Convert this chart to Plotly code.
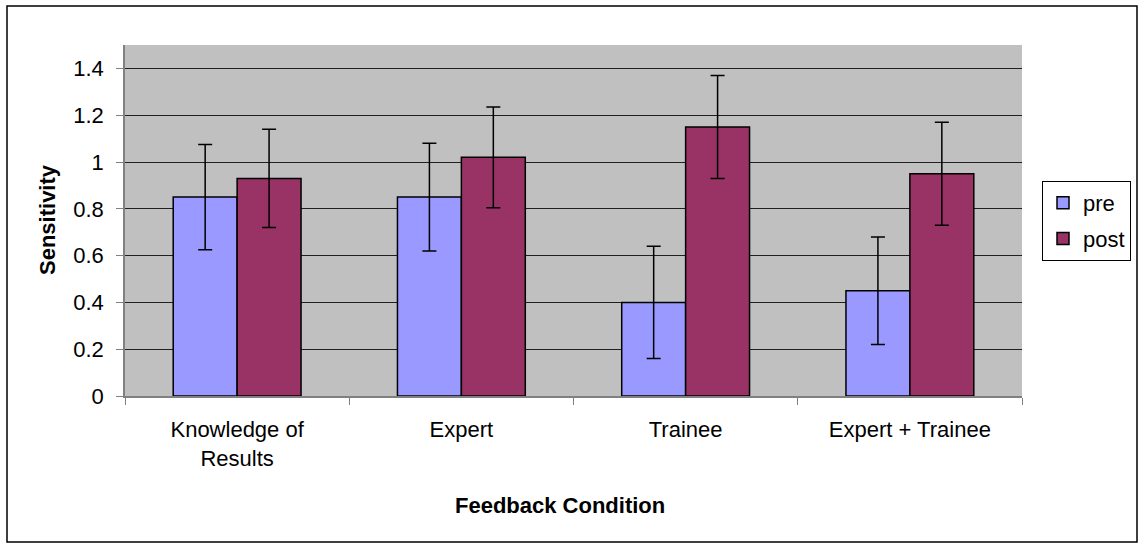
import plotly.graph_objects as go

categories = ["Knowledge of<br>Results", "Expert", "Trainee", "Expert + Trainee"]
pre = [0.85, 0.85, 0.40, 0.45]
post = [0.93, 1.02, 1.15, 0.95]
pre_err = [0.225, 0.23, 0.24, 0.23]
post_err = [0.21, 0.215, 0.22, 0.22]
y_ticks = [0, 0.2, 0.4, 0.6, 0.8, 1.0, 1.2, 1.4]

W, H = 1139, 544
L, R, T, B = 125, 117, 45, 148

FONT = "Liberation Sans, Arial, sans-serif"

def px_x(px):
    return (px - L) / (W - L - R)

def px_y(py):
    return (H - B - py) / (H - T - B)

fig = go.Figure()
fig.add_trace(go.Bar(
    name="pre", x=categories, y=pre,
    marker=dict(color="#9999FF", line=dict(color="black", width=1.5)),
    error_y=dict(type="data", array=pre_err, color="black", thickness=1.5, width=7),
    legendgroup="a",
))
fig.add_trace(go.Bar(
    name="post", x=categories, y=post,
    marker=dict(color="#993366", line=dict(color="black", width=1.5)),
    error_y=dict(type="data", array=post_err, color="black", thickness=1.5, width=7),
    legendgroup="b",
))

fig.update_layout(
    width=W, height=H,
    margin=dict(l=L, r=R, t=T, b=B, autoexpand=False),
    paper_bgcolor="white",
    plot_bgcolor="#C0C0C0",
    barmode="group",
    bargap=0.43,
    bargroupgap=0,
    font=dict(family=FONT, size=22, color="black"),
    showlegend=True,
    legend=dict(
        x=px_x(1042), y=px_y(181), xanchor="left", yanchor="top",
        bgcolor="white", bordercolor="black", borderwidth=1,
        font=dict(family=FONT, size=22, color="black"),
        traceorder="grouped", tracegroupgap=4,
    ),
    xaxis=dict(
        type="category",
        showgrid=False,
        showline=True, linecolor="#808080", linewidth=1.5,
        ticks="outside", tickson="boundaries", ticklen=7, tickcolor="#808080",
        tickfont=dict(family=FONT, size=22, color="black"),
        ticklabelstandoff=13,
        automargin=False,
    ),
    yaxis=dict(
        range=[0, 1.5],
        tickvals=y_ticks,
        showgrid=True, gridcolor="#202020", gridwidth=1,
        zeroline=False,
        showline=True, linecolor="#808080", linewidth=1.5,
        ticks="outside", ticklen=7, tickcolor="#808080",
        tickfont=dict(family=FONT, size=22, color="black"),
        ticklabelstandoff=8,
        automargin=False,
    ),
    annotations=[
        dict(text="<b>Feedback Condition</b>", xref="paper", yref="paper",
             x=px_x(560), y=px_y(505), xanchor="center", yanchor="middle",
             showarrow=False,
             font=dict(family=FONT, size=22, color="black")),
        dict(text="<b>Sensitivity</b>", xref="paper", yref="paper",
             x=px_x(47), y=px_y(220), xanchor="center", yanchor="middle",
             showarrow=False, textangle=-90,
             font=dict(family=FONT, size=22, color="black")),
    ],
    shapes=[
        dict(type="rect", xref="paper", yref="paper",
             x0=px_x(7), x1=px_x(1137), y0=px_y(542), y1=px_y(6),
             line=dict(color="black", width=1.5), fillcolor="rgba(0,0,0,0)",
             layer="below"),
    ],
)

fig.write_html("out.html", config={"displayModeBar": False},
               post_script="document.body.style.margin='0px';document.body.style.overflow='hidden';")
